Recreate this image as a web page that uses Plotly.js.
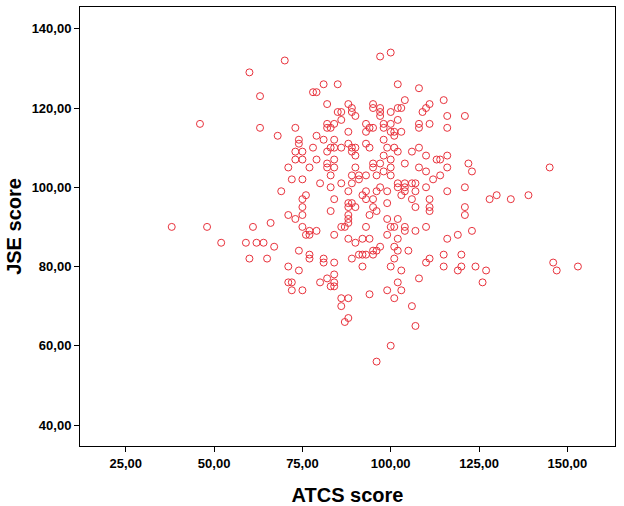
<!DOCTYPE html>
<html>
<head>
<meta charset="utf-8">
<script src="https://cdn.plot.ly/plotly-3.0.1.min.js"></script>
<style>html,body{margin:0;padding:0;background:#fff;}#chart{width:624px;height:506px;}</style>
</head>
<body>
<div id="chart"></div>
<script>
// ATCS score (x) per participant
const atcsScore = [
70,60,63,46,63,68,73,74,74,73,75,78,73,75,71,77,72,75,69,76,75,75,71,73,75,66,38,48,61,75,77,76,77,52,59,62,64,67,74,77,77,60,65,71,74,71,72,72,75,
97,100,81,85,102,78,79,108,82,88,95,95,89,97,104,111,115,85,86,89,97,100,102,103,110,109,90,97,116,86,102,82,84,83,82,93,98,100,108,108,111,116,94,95,88,93,98,100,101,101,103,79,81,84,98,88,82,83,84,86,89,90,89,90,93,94,99,101,100,102,98,106,108,110,113,114,116,79,84,95,97,104,82,82,90,95,100,108,116,84,
110,83,80,83,86,89,91,91,93,96,98,100,89,88,93,96,97,99,102,102,104,104,104,106,107,107,103,110,114,112,116,84,92,93,95,88,89,90,88,95,96,99,106,111,111,111,107,83,88,88,88,94,99,102,87,86,93,100,101,104,104,107,110,116,79,84,88,90,92,94,99,102,97,96,95,101,102,105,81,81,84,89,91,92,93,95,101,111,110,115,115,92,100,103,108,84,84,84,82,80,83,102,
86,88,86,88,87,94,99,103,101,106,107,100,96,
126,121,122,145,123,121,128,130,134,139,121,121,123,119,120,120,119,124,127,146,147,153
];
// JSE score (y) per participant
const jseScore = [
132,129,123,116,115,113,115,112,111,109,109,110,107,107,105,105,102,102,99,98,97,95,93,92,93,91,90,90,90,90,89,88,88,86,86,86,86,85,84,83,82,82,82,80,79,76,76,74,74,
133,134,126,126,126,124,124,125,121,121,121,120,120,120,122,121,122,119,119,119,119,119,120,120,120,119,118,118,118,117,117,116,116,115,115,116,116,116,116,115,116,115,115,115,114,114,115,114,114,113,114,113,112,112,112,111,109,110,110,110,110,110,109,108,111,110,110,110,107,109,108,109,110,108,107,107,108,107,107,106,106,106,106,105,105,105,105,105,105,105,
104,103,101,100,101,103,103,102,103,103,104,103,101,99,99,99,100,99,101,100,101,100,99,101,101,99,98,100,103,102,99,97,98,97,97,96,96,95,95,95,94,96,97,97,95,94,95,94,93,92,91,93,92,92,90,90,90,90,90,90,89,89,90,87,89,88,87,86,87,87,88,87,85,84,84,85,84,84,82,81,81,82,83,83,83,83,82,82,81,83,80,80,80,79,77,78,76,75,77,76,75,76,
72,72,70,67,66,73,74,74,72,70,65,60,56,
76,118,106,105,104,100,97,98,97,98,95,93,89,88,83,80,79,80,79,81,79,80
];
const xTickVals = [25, 50, 75, 100, 125, 150];
const yTickVals = [40, 60, 80, 100, 120, 140];

const trace = {
  type: 'scatter',
  mode: 'markers',
  x: atcsScore,
  y: jseScore,
  marker: {symbol: 'circle-open', size: 7, color: '#e8323c', line: {width: 1, color: '#e8323c'}},
  hoverinfo: 'x+y'
};

const tickFont = {family: '"Liberation Sans", Arial, sans-serif', size: 13, color: '#000', weight: 'bold'};
const titleFont = {family: '"Liberation Sans", Arial, sans-serif', size: 20, color: '#000', weight: 'bold'};

const layout = {
  width: 624, height: 506,
  margin: {l: 80, r: 9, t: 7, b: 60},
  paper_bgcolor: '#fff', plot_bgcolor: '#fff',
  separators: ',.',
  showlegend: false,
  xaxis: {
    range: [12.03, 163.5],
    tickmode: 'array', tickvals: xTickVals, tickformat: '.2f',
    ticks: 'outside', ticklen: 5, tickwidth: 1, tickcolor: '#000',
    showline: true, mirror: true, linecolor: '#000', linewidth: 1,
    showgrid: false, zeroline: false,
    tickfont: tickFont,
    title: {text: 'ATCS score', font: titleFont, standoff: 18}
  },
  yaxis: {
    range: [34.7, 145.5],
    tickmode: 'array', tickvals: yTickVals, tickformat: '.2f',
    ticks: 'outside', ticklen: 5, tickwidth: 1, tickcolor: '#000',
    showline: true, mirror: true, linecolor: '#000', linewidth: 1,
    showgrid: false, zeroline: false,
    tickfont: tickFont,
    title: {text: 'JSE score', font: titleFont, standoff: 4}
  }
};

Plotly.newPlot('chart', [trace], layout, {displayModeBar: false, staticPlot: true});
</script>
</body>
</html>
